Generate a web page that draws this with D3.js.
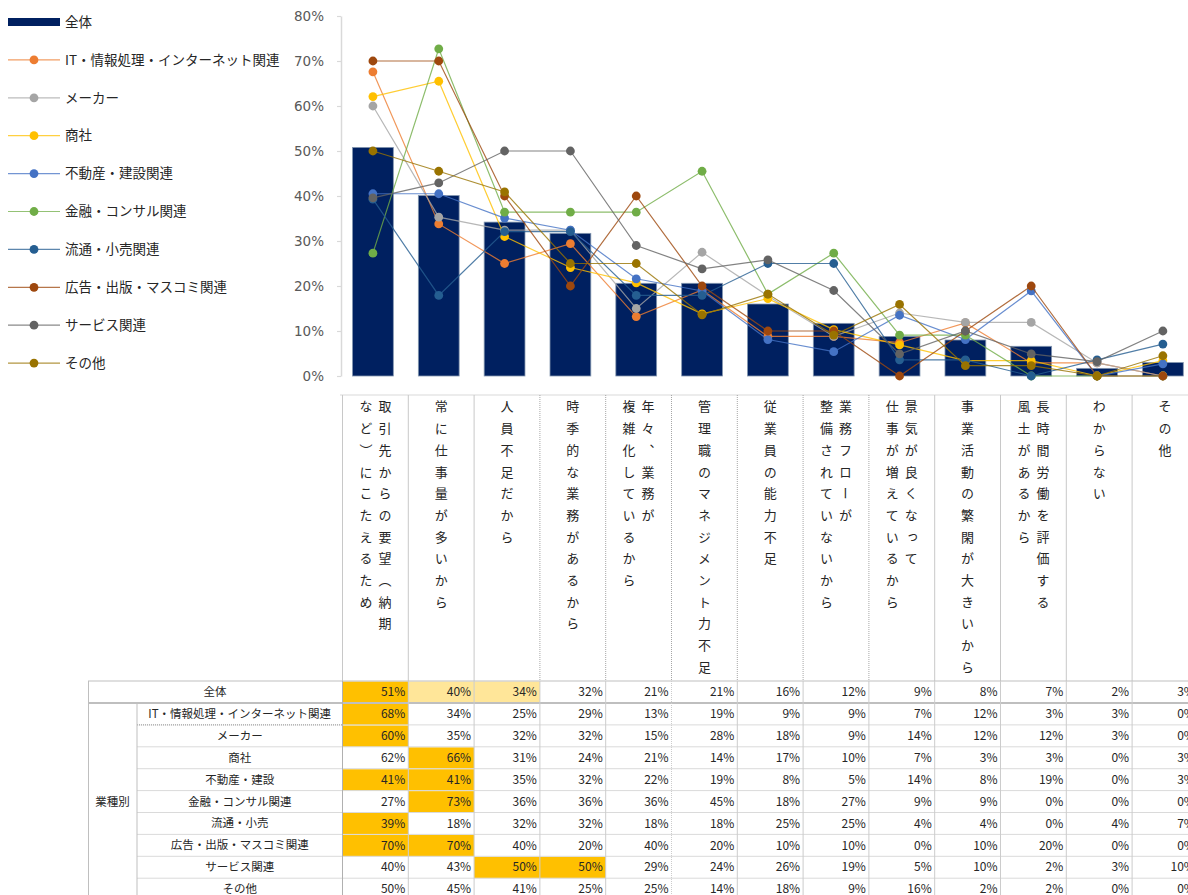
<!DOCTYPE html>
<html><head><meta charset="utf-8">
<script src="https://cdn.jsdelivr.net/npm/d3@7/dist/d3.min.js"></script>
<style>
html,body{margin:0;padding:0;background:#fff;}
svg{display:block;font-family:"Noto Sans CJK JP","Noto Sans",sans-serif;}
</style></head><body>
<svg id="chart" width="1188" height="895"></svg>
<script>
// ---------------- DATA ----------------
const categories = [
  "取引先からの要望（納期\nなど）にこたえるため",
  "常に仕事量が多いから",
  "人員不足だから",
  "時季的な業務があるから",
  "年々、業務が\n複雑化しているから",
  "管理職のマネジメント力不足",
  "従業員の能力不足",
  "業務フローが\n整備されていないから",
  "景気が良くなって\n仕事が増えているから",
  "事業活動の繁閑が大きいから",
  "長時間労働を評価する\n風土があるから",
  "わからない",
  "その他"
];
const overallName = "全体";
const overallValues = [50.8, 40.1, 34.2, 31.7, 20.6, 20.6, 16.0, 11.7, 8.8, 8.0, 6.6, 1.7, 3.0];

const seriesNames = ["IT・情報処理・インターネット関連","メーカー","商社","不動産・建設関連","金融・コンサル関連","流通・小売関連","広告・出版・マスコミ関連","サービス関連","その他"];
const itValues       = [67.6, 33.8, 25.0, 29.4, 13.2, 19.1, 8.8, 8.8, 7.4, 11.8, 2.9, 2.9, 0];
const makerValues    = [60.0, 35.3, 32.4, 32.4, 15.0, 27.5, 17.8, 8.8, 14.0, 11.9, 11.9, 2.9, 0];
const tradingValues  = [62.1, 65.5, 31.0, 24.1, 20.7, 13.8, 17.2, 10.3, 6.9, 3.4, 3.4, 0, 3.4];
const realtyValues   = [40.5, 40.5, 35.1, 32.4, 21.6, 18.9, 8.1, 5.4, 13.5, 8.1, 18.9, 0, 2.7];
const financeValues  = [27.3, 72.7, 36.4, 36.4, 36.4, 45.5, 18.2, 27.3, 9.1, 9.1, 0, 0, 0];
const retailValues   = [39.3, 17.9, 32.1, 32.1, 17.9, 17.9, 25.0, 25.0, 3.6, 3.6, 0, 3.6, 7.1];
const mediaValues    = [70, 70, 40, 20, 40, 20, 10, 10, 0, 10, 20, 0, 0];
const serviceValues  = [39.6, 42.9, 50.0, 50.0, 29.0, 23.8, 25.8, 19.0, 4.9, 10.0, 4.9, 3.2, 10.0];
const otherValues    = [50.0, 45.5, 40.9, 25.0, 25.0, 13.6, 18.2, 9.1, 15.9, 2.3, 2.3, 0, 4.5];
const seriesValues = [itValues, makerValues, tradingValues, realtyValues, financeValues, retailValues, mediaValues, serviceValues, otherValues];

const yTicks = [0, 10, 20, 30, 40, 50, 60, 70, 80];

// table (printed values)
const tableGroupLabel = "業種別";
const tableRowNames = ["全体","IT・情報処理・インターネット関連","メーカー","商社","不動産・建設","金融・コンサル関連","流通・小売","広告・出版・マスコミ関連","サービス関連","その他"];
const tableValues = [
  [51,40,34,32,21,21,16,12,9,8,7,2,3],
  [68,34,25,29,13,19,9,9,7,12,3,3,0],
  [60,35,32,32,15,28,18,9,14,12,12,3,0],
  [62,66,31,24,21,14,17,10,7,3,3,0,3],
  [41,41,35,32,22,19,8,5,14,8,19,0,3],
  [27,73,36,36,36,45,18,27,9,9,0,0,0],
  [39,18,32,32,18,18,25,25,4,4,0,4,7],
  [70,70,40,20,40,20,10,10,0,10,20,0,0],
  [40,43,50,50,29,24,26,19,5,10,2,3,10],
  [50,45,41,25,25,14,18,9,16,2,2,0,0]
];
const strongCells = [[0,0],[1,0],[2,0],[3,1],[4,0],[4,1],[5,1],[6,0],[7,0],[7,1],[8,2],[8,3]];
const lightCells = [[0,1],[0,2]];

// ---------------- STYLE ----------------
const seriesColors = ["#ED7D31","#A5A5A5","#FFC000","#4472C4","#70AD47","#255E91","#9E480E","#636363","#997300"];
const barColor = "#002060";

const svg = d3.select("#chart");
const W = 1188;

// scales
const y = d3.scaleLinear().domain([0, 80]).range([376, 16]);
const x = d3.scaleBand().domain(categories).range([340, 1195.8]).paddingInner(0.38).paddingOuter(0.19);
const bw = x.bandwidth();
const cx = c => x(c) + bw / 2;
const col = d3.scaleBand().domain(categories).range([342.5, 342.5 + 13 * 65.8]);

// y axis
const yAxis = svg.append("g").attr("transform", "translate(341,0)")
  .call(d3.axisLeft(y).tickValues(yTicks).tickFormat(d => d + "%").tickSizeInner(4).tickSizeOuter(0).tickPadding(13));
yAxis.select(".domain").attr("stroke", "#d9d9d9").attr("stroke-width", 1.5);
yAxis.selectAll(".tick line").attr("stroke", "#d9d9d9").attr("stroke-width", 1.2);
yAxis.selectAll(".tick text").attr("fill", "#595959").style("font-family", "'DejaVu Sans',sans-serif").style("font-size", "13.5px");

// bars
svg.append("g").selectAll("rect").data(overallValues).join("rect")
  .attr("x", (d, i) => x(categories[i]))
  .attr("y", d => y(d))
  .attr("width", bw)
  .attr("height", d => y(0) - y(d))
  .attr("fill", barColor)
  .attr("stroke", "#8497B0")
  .attr("stroke-width", 0.8);

// lines
const line = d3.line().x((d, i) => cx(categories[i])).y(d => y(d));
seriesValues.forEach((vals, s) => {
  const g = svg.append("g");
  g.append("path").attr("d", line(vals)).attr("fill", "none")
    .attr("stroke", seriesColors[s]).attr("stroke-width", 1.2).attr("stroke-opacity", 0.8);
  g.selectAll("circle").data(vals).join("circle")
    .attr("cx", (d, i) => cx(categories[i])).attr("cy", d => y(d)).attr("r", 4.4)
    .attr("fill", seriesColors[s]);
});

// legend
const legend = svg.append("g");
const legY = i => 22 + i * 37.9;
legend.append("rect").attr("x", 8).attr("y", legY(0) - 4).attr("width", 52).attr("height", 8).attr("fill", barColor);
legend.append("text").attr("x", 65).attr("y", legY(0)).attr("dy", "0.35em").text(overallName)
  .attr("fill", "#262626").style("font-size", "13.5px");
seriesNames.forEach((n, s) => {
  const yy = legY(s + 1);
  legend.append("line").attr("x1", 8).attr("x2", 60).attr("y1", yy).attr("y2", yy)
    .attr("stroke", seriesColors[s]).attr("stroke-width", 1.2).attr("stroke-opacity", 0.75);
  legend.append("circle").attr("cx", 34).attr("cy", yy).attr("r", 4.4).attr("fill", seriesColors[s]);
  legend.append("text").attr("x", 65).attr("y", yy).attr("dy", "0.35em").text(n)
    .attr("fill", "#262626").style("font-size", "13.5px");
});

// ---------------- LABEL AREA ----------------
const grid = svg.append("g");
const labTop = 395, tabTop = 681, tabBot = 895;
grid.append("line").attr("x1", 340).attr("x2", W).attr("y1", labTop).attr("y2", labTop).attr("stroke", "#d9d9d9");
const dottedCols = new Set([3,4,5,6,7,8]);
d3.range(0, 13).forEach(k => {
  const xx = 342.5 + k * 65.8;
  grid.append("line").attr("x1", xx).attr("x2", xx).attr("y1", labTop).attr("y2", tabTop)
    .attr("stroke", dottedCols.has(k) ? "#a6a6a6" : "#c8c8c8")
    .attr("stroke-dasharray", dottedCols.has(k) ? "1,1" : null);
});

categories.forEach(c => {
  const lines = c.split("\n");
  const n = lines.length;
  const mid = col(c) + col.bandwidth() / 2;
  lines.forEach((t, j) => {
    svg.append("text")
      .attr("x", mid + ((n - 1) / 2 - j) * 19)
      .attr("y", 400)
      .attr("writing-mode", "vertical-rl")
      .style("writing-mode", "vertical-rl")
      .style("text-orientation", "upright")
      .style("letter-spacing", "8.7px")
      .style("font-size", "13px")
      .attr("fill", "#262626")
      .text(t);
  });
});

// ---------------- TABLE ----------------
const rowH = 21.9;
const rowTop = r => r === 0 ? tabTop : 703 + (r - 1) * rowH;
const rowBot = r => r === 0 ? 703 : 703 + r * rowH;
const tbl = svg.append("g");

// highlights
const cellRect = (r, c, fill) => tbl.append("rect")
  .attr("x", col(categories[c])).attr("y", rowTop(r) + 0.5)
  .attr("width", col.bandwidth()).attr("height", rowBot(r) - rowTop(r) - 0.5).attr("fill", fill);
strongCells.forEach(([r, c]) => cellRect(r, c, "#FFC000"));
lightCells.forEach(([r, c]) => cellRect(r, c, "#FFE699"));

// grid lines
tbl.append("line").attr("x1", 88).attr("x2", W).attr("y1", tabTop).attr("y2", tabTop).attr("stroke", "#bfbfbf");
tbl.append("line").attr("x1", 88).attr("x2", W).attr("y1", 703).attr("y2", 703).attr("stroke", "#bfbfbf").attr("stroke-width", 2);
d3.range(1, 10).forEach(r => {
  const yy = rowBot(r);
  tbl.append("line").attr("x1", 137).attr("x2", W).attr("y1", yy).attr("y2", yy).attr("stroke", "#dadada");
});
tbl.append("line").attr("x1", 137).attr("x2", 342).attr("y1", rowBot(1)).attr("y2", rowBot(1))
  .attr("stroke", "#fff").attr("stroke-width", 1.2);
tbl.append("line").attr("x1", 137).attr("x2", 342).attr("y1", rowBot(1)).attr("y2", rowBot(1))
  .attr("stroke", "#8c8c8c").attr("stroke-dasharray", "1,1");
tbl.append("line").attr("x1", 88.5).attr("x2", 88.5).attr("y1", tabTop).attr("y2", tabBot).attr("stroke", "#bfbfbf");
tbl.append("line").attr("x1", 137).attr("x2", 137).attr("y1", 703).attr("y2", tabBot).attr("stroke", "#bfbfbf");
d3.range(0, 13).forEach(k => {
  const xx = 342.5 + k * 65.8;
  tbl.append("line").attr("x1", xx).attr("x2", xx).attr("y1", tabTop).attr("y2", tabBot)
    .attr("stroke", k === 0 ? "#b0b0b0" : "#cccccc").attr("stroke-dasharray", k === 5 ? "1,1" : null);
});

// row names
tableRowNames.forEach((n, r) => {
  const yy = (rowTop(r) + rowBot(r)) / 2;
  tbl.append("text").attr("x", r === 0 ? 215 : 239.7).attr("y", yy).attr("dy", "0.35em")
    .attr("text-anchor", "middle").style("font-size", "11.5px").attr("fill", "#262626").text(n);
});
tbl.append("text").attr("x", 112.5).attr("y", (703 + rowBot(9)) / 2).attr("dy", "0.35em")
  .attr("text-anchor", "middle").style("font-size", "11.5px").attr("fill", "#262626").text(tableGroupLabel);

// values
tableValues.forEach((row, r) => {
  const yy = (rowTop(r) + rowBot(r)) / 2;
  row.forEach((v, c) => {
    tbl.append("text").attr("x", col(categories[c]) + col.bandwidth() - 3).attr("y", yy).attr("dy", "0.35em")
      .attr("text-anchor", "end").style("font-size", "12px").attr("fill", "#262626").text(v + "%");
  });
});
</script>
</body></html>
